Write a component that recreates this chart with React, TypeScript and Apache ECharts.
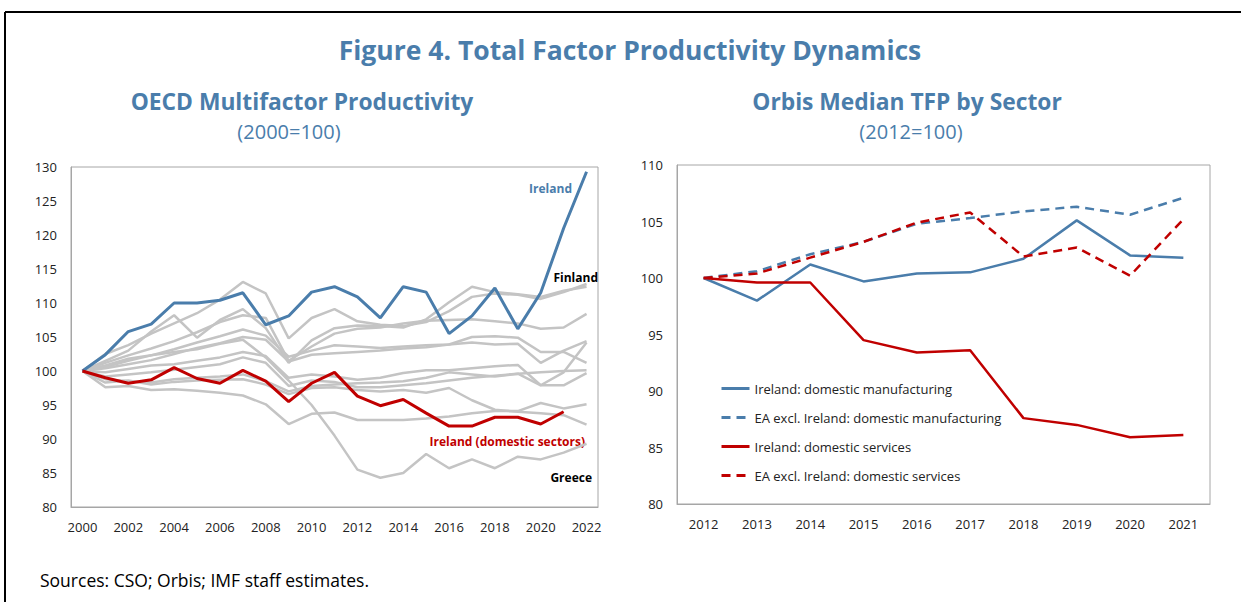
import React, { useEffect, useRef } from "react";
import * as echarts from "echarts";

// ---------- Left chart: OECD Multifactor Productivity (2000=100) ----------
const oecdYears = [
  "2000", "2001", "2002", "2003", "2004", "2005", "2006", "2007", "2008", "2009", "2010", "2011",
  "2012", "2013", "2014", "2015", "2016", "2017", "2018", "2019", "2020", "2021", "2022",
];
const irelandMfp = [100, 102.4, 105.8, 106.9, 110.0, 110.0, 110.4, 111.5, 106.8, 108.1, 111.6, 112.4, 110.9, 107.8, 112.4, 111.6, 105.5, 108.1, 112.2, 106.2, 111.5, 121.0, 129.3];
const irelandDomestic = [100, 99.0, 98.2, 98.7, 100.5, 98.9, 98.2, 100.1, 98.5, 95.5, 98.2, 99.8, 96.3, 94.9, 95.8, 93.8, 91.9, 91.9, 93.2, 93.2, 92.2, 94.0];
const finland = [100, 102.5, 103.8, 105.5, 107.0, 108.5, 110.5, 113.1, 111.4, 104.8, 107.8, 109.1, 107.3, 106.8, 106.6, 107.2, 108.8, 110.9, 111.4, 111.2, 110.6, 111.6, 112.8];
const greece = [100, 100.6, 101.5, 102.3, 102.8, 103.2, 104.0, 104.6, 102.0, 98.6, 95.0, 90.5, 85.5, 84.3, 85.0, 87.8, 85.7, 87.0, 85.7, 87.4, 87.0, 88.0, 89.3];
const otherA = [100, 101.5, 103.0, 105.8, 108.2, 104.9, 107.5, 109.1, 106.3, 101.2, 104.5, 106.3, 106.7, 106.6, 106.4, 107.6, 110.1, 112.4, 111.6, 111.3, 110.9, 111.8, 112.4];
const otherB = [100, 101.2, 102.3, 103.3, 104.4, 105.7, 107.2, 108.2, 107.8, 101.5, 103.6, 105.5, 106.2, 106.4, 107.0, 107.4, 107.5, 107.6, 107.3, 107.0, 106.2, 106.4, 108.4];
const otherC = [100, 100.8, 101.8, 102.3, 103.2, 104.2, 105.1, 106.1, 105.2, 102.1, 103.0, 103.8, 103.6, 103.4, 103.6, 103.8, 103.9, 105.0, 105.1, 104.9, 102.8, 102.8, 101.2];
const otherD = [100, 100.4, 101.0, 101.6, 102.5, 103.4, 104.1, 105.0, 104.6, 101.4, 102.4, 102.6, 102.8, 103.0, 103.3, 103.5, 103.9, 104.2, 103.9, 104.0, 101.2, 103.0, 104.4];
const otherE = [100, 99.8, 100.3, 100.8, 101.0, 101.5, 102.0, 102.8, 102.2, 99.0, 99.5, 99.2, 98.7, 99.0, 99.7, 100.1, 100.1, 100.4, 100.7, 100.9, 97.9, 99.8, 104.2];
const otherF = [100, 99.2, 99.5, 99.8, 100.2, 100.6, 101.0, 102.0, 101.2, 97.8, 98.6, 98.4, 97.6, 97.6, 97.9, 98.2, 98.6, 99.0, 99.3, 99.6, 97.9, 97.9, 99.7];
const otherG = [100, 98.8, 98.5, 98.3, 98.8, 99.0, 99.2, 99.5, 98.5, 97.0, 97.8, 98.0, 98.2, 98.3, 98.5, 99.0, 99.8, 99.5, 99.2, 99.6, 99.8, 100.0, 100.1];
const otherH = [100, 97.6, 97.8, 97.2, 97.3, 97.1, 96.8, 96.4, 95.1, 92.2, 93.7, 93.9, 92.8, 92.8, 92.8, 93.0, 93.3, 93.8, 94.1, 94.1, 95.3, 94.5, 95.1];
const otherI = [100, 98.3, 98.6, 98.0, 98.4, 98.6, 98.7, 98.8, 98.0, 96.6, 97.5, 97.6, 97.2, 97.0, 97.2, 96.8, 97.5, 95.7, 94.3, 94.0, 93.8, 93.5, 92.1];
const grayLines = [finland, greece, otherA, otherB, otherC, otherD, otherE, otherF, otherG, otherH, otherI];

// ---------- Right chart: Orbis Median TFP by Sector (2012=100) ----------
const orbisYears = ["2012", "2013", "2014", "2015", "2016", "2017", "2018", "2019", "2020", "2021"];
const ieManufacturing = [100, 98.0, 101.2, 99.7, 100.4, 100.5, 101.7, 105.1, 102.0, 101.8];
const eaManufacturing = [100, 100.6, 102.1, 103.2, 104.8, 105.3, 105.9, 106.3, 105.6, 107.1];
const ieServices = [100, 99.6, 99.6, 94.5, 93.4, 93.6, 87.6, 87.0, 85.9, 86.1];
const eaServices = [100, 100.4, 101.8, 103.2, 104.9, 105.8, 101.9, 102.7, 100.2, 105.2];

const BLUE = "#4a7dab";
const RED = "#c00000";
const GRAY = "#c4c4c4";
const AXIS = "#a6a6a6";
const FONT = "Open Sans";

export default function App() {
  const ref = useRef<HTMLDivElement>(null);

  useEffect(() => {
    if (!ref.current) return;
    const chart = echarts.init(ref.current, null, { renderer: "svg" });

    const axisLabelStyle = { color: "#222", fontSize: 13, fontFamily: FONT };

    const series: any[] = [];
    grayLines.forEach((d, i) => {
      series.push({
        type: "line",
        name: "oecd" + i,
        xAxisIndex: 0,
        yAxisIndex: 0,
        data: d,
        symbol: "none",
        silent: true,
        z: 2,
        lineStyle: { color: GRAY, width: 2.5 },
      });
    });
    series.push({
      type: "line",
      name: "Ireland",
      xAxisIndex: 0,
      yAxisIndex: 0,
      data: irelandMfp,
      symbol: "none",
      z: 4,
      lineStyle: { color: BLUE, width: 3 },
    });
    series.push({
      type: "line",
      name: "Ireland (domestic sectors)",
      xAxisIndex: 0,
      yAxisIndex: 0,
      data: irelandDomestic,
      symbol: "none",
      z: 5,
      lineStyle: { color: RED, width: 3 },
    });

    const rightNames = [
      "Ireland: domestic manufacturing",
      "EA excl. Ireland: domestic manufacturing",
      "Ireland: domestic services",
      "EA excl. Ireland: domestic services",
    ];
    const rightData = [ieManufacturing, eaManufacturing, ieServices, eaServices];
    const rightColors = [BLUE, BLUE, RED, RED];
    const rightTypes: any[] = ["solid", [9, 6], "solid", [9, 6]];
    rightData.forEach((d, i) => {
      series.push({
        type: "line",
        name: rightNames[i],
        xAxisIndex: 1,
        yAxisIndex: 1,
        data: d,
        symbol: "none",
        z: 3 + (i === 3 ? 1 : 0),
        color: rightColors[i],
        itemStyle: { color: rightColors[i] },
        lineStyle: { color: rightColors[i], width: 2.5, type: rightTypes[i] },
      });
    });

    const txt = (text: string, x: number, y: number, size: number, weight: string, fill: string, align = "center") => ({
      type: "text",
      x,
      y,
      silent: true,
      style: {
        text,
        fill,
        fontSize: size,
        fontWeight: weight,
        fontFamily: FONT,
        align,
        verticalAlign: "middle",
      },
    });

    chart.setOption({
      animation: false,
      backgroundColor: "#fff",
      textStyle: { fontFamily: FONT },
      grid: [
        { left: 71, top: 167, width: 527, height: 340, show: true, borderColor: AXIS, borderWidth: 1 },
        { left: 677, top: 165, width: 533, height: 339, show: true, borderColor: AXIS, borderWidth: 1 },
      ],
      xAxis: [
        {
          type: "category",
          gridIndex: 0,
          data: oecdYears,
          boundaryGap: true,
          axisLine: { lineStyle: { color: AXIS, width: 1 } },
          axisTick: { inside: true, length: 4, lineStyle: { color: AXIS } },
          axisLabel: { ...axisLabelStyle, interval: 1, margin: 13 },
          splitLine: { show: false },
        },
        {
          type: "category",
          gridIndex: 1,
          data: orbisYears,
          boundaryGap: true,
          axisLine: { lineStyle: { color: AXIS, width: 1 } },
          axisTick: { inside: true, length: 4, lineStyle: { color: AXIS } },
          axisLabel: { ...axisLabelStyle, interval: 0, margin: 13 },
          splitLine: { show: false },
        },
      ],
      yAxis: [
        {
          type: "value",
          gridIndex: 0,
          min: 80,
          max: 130,
          interval: 5,
          axisLine: { show: true, lineStyle: { color: AXIS } },
          axisTick: { show: false },
          splitLine: { show: false },
          axisLabel: { ...axisLabelStyle, margin: 14 },
        },
        {
          type: "value",
          gridIndex: 1,
          min: 80,
          max: 110,
          interval: 5,
          axisLine: { show: true, lineStyle: { color: AXIS } },
          axisTick: { show: false },
          splitLine: { show: false },
          axisLabel: { ...axisLabelStyle, margin: 14 },
        },
      ],
      legend: {
        data: rightNames,
        orient: "vertical",
        left: 715,
        top: 377,
        itemWidth: 28,
        itemHeight: 14,
        itemGap: 16,
        selectedMode: false,
        itemStyle: { opacity: 0 },
        lineStyle: { width: 3 },
        textStyle: { color: "#222", fontSize: 13, fontFamily: FONT },
      },
      graphic: {
        elements: [
          { type: "line", silent: true, shape: { x1: 5, y1: 12, x2: 1241, y2: 12 }, style: { stroke: "#000", lineWidth: 2 } },
          { type: "line", silent: true, shape: { x1: 5, y1: 12, x2: 5, y2: 602 }, style: { stroke: "#000", lineWidth: 2 } },
          txt("Figure 4. Total Factor Productivity Dynamics", 630, 50, 26.5, "bold", BLUE),
          txt("OECD Multifactor Productivity", 302, 101, 22.8, "bold", BLUE),
          txt("(2000=100)", 289, 131, 20, "normal", BLUE),
          txt("Orbis Median TFP by Sector", 907, 101, 22.8, "bold", BLUE),
          txt("(2012=100)", 911, 131, 20, "normal", BLUE),
          txt("Ireland", 572, 188, 12, "bold", BLUE, "right"),
          txt("Finland", 598, 277, 12, "bold", "#000", "right"),
          txt("Ireland (domestic sectors)", 585, 441, 12, "bold", RED, "right"),
          txt("Greece", 592, 477, 12, "bold", "#000", "right"),
          txt("Sources: CSO; Orbis; IMF staff estimates.", 40, 580, 17.5, "normal", "#000", "left"),
        ],
      },
      series,
    });

    return () => chart.dispose();
  }, []);

  return (
    <div
      ref={ref}
      style={{ position: "absolute", left: 0, top: 0, width: 1241, height: 602, background: "#fff" }}
    />
  );
}
